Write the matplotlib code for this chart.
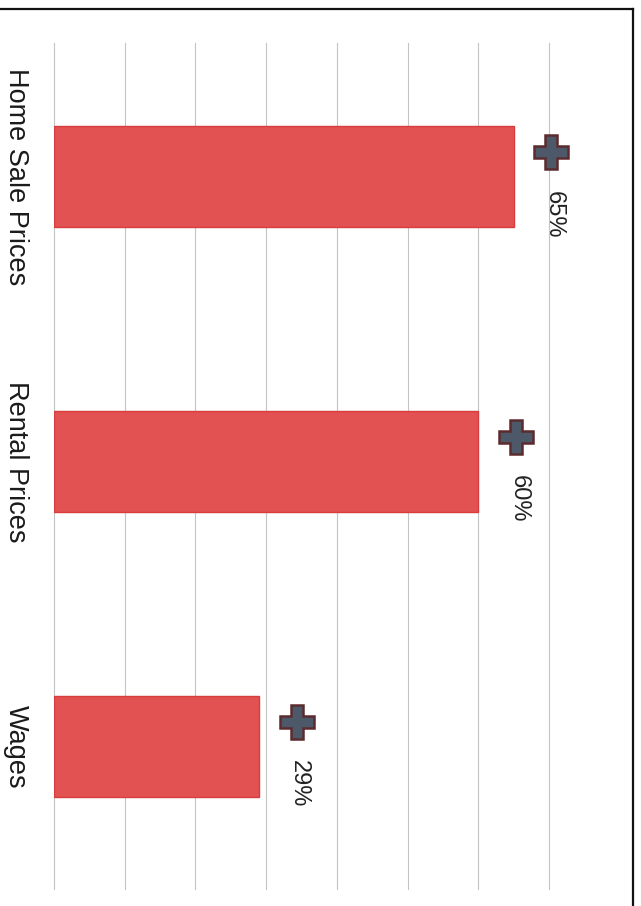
import numpy as np
import matplotlib.pyplot as plt
from matplotlib.lines import Line2D
from matplotlib.transforms import offset_copy, blended_transform_factory

plt.rcParams['font.family'] = ['Liberation Sans', 'DejaVu Sans']

# Datos
categorias = ['Home Sale Prices', 'Rental Prices', 'Wages']
valores = [65, 60, 29]
marcas = [0, 10, 20, 30, 40, 50, 60, 70]

fig = plt.figure(figsize=(6.41, 9.06), dpi=100)
ax = fig.add_axes([54/641, 17/906, 495/641, 846/906])

pos = np.arange(len(categorias))

# Barras horizontales (grafico girado)
ax.barh(pos, valores, height=0.355, color='#e25252', edgecolor='#d83c3c',
        linewidth=1, zorder=2)

ax.set_xlim(0, 70)
ax.set_ylim(2.5, -0.47)
for m in marcas:
    ax.axvline(m, color='#c4c4c4', lw=0.8, zorder=0, clip_on=False)
ax.set_xticks([])
ax.set_yticks([])
for s in ax.spines.values():
    s.set_visible(False)

# Signo "+" al final de cada barra
tr_mas = offset_copy(ax.transData, fig=fig, x=27, y=18, units='points')
ax.plot(valores, pos, linestyle='none', marker='P', markersize=25,
        markerfacecolor='#4d5969', markeredgecolor='#5b2b2e',
        markeredgewidth=1.8, transform=tr_mas, clip_on=False, zorder=3)

# Porcentajes
for v, p in zip(valores, pos):
    ax.annotate(f'{v}%', xy=(v, p), xytext=(29, -27), textcoords='offset points',
                rotation=-90, ha='center', va='center', fontsize=17,
                color='#222222', annotation_clip=False)

# Nombres de las categorias
tr_cat = blended_transform_factory(fig.transFigure, ax.transData)
for c, p in zip(categorias, pos):
    ax.text(16/641, p, c, transform=tr_cat, rotation=-90, ha='center',
            va='center', fontsize=19.5, color='#1a1a1a')

# Marco superior y derecho
y_top = 1 - 9/906
x_der = 633/641
fig.add_artist(Line2D([0, x_der], [y_top, y_top], color='#111111', lw=1.6))
fig.add_artist(Line2D([x_der, x_der], [0, y_top], color='#111111', lw=1.6))

fig.savefig('out.png', dpi=100, facecolor='white')
